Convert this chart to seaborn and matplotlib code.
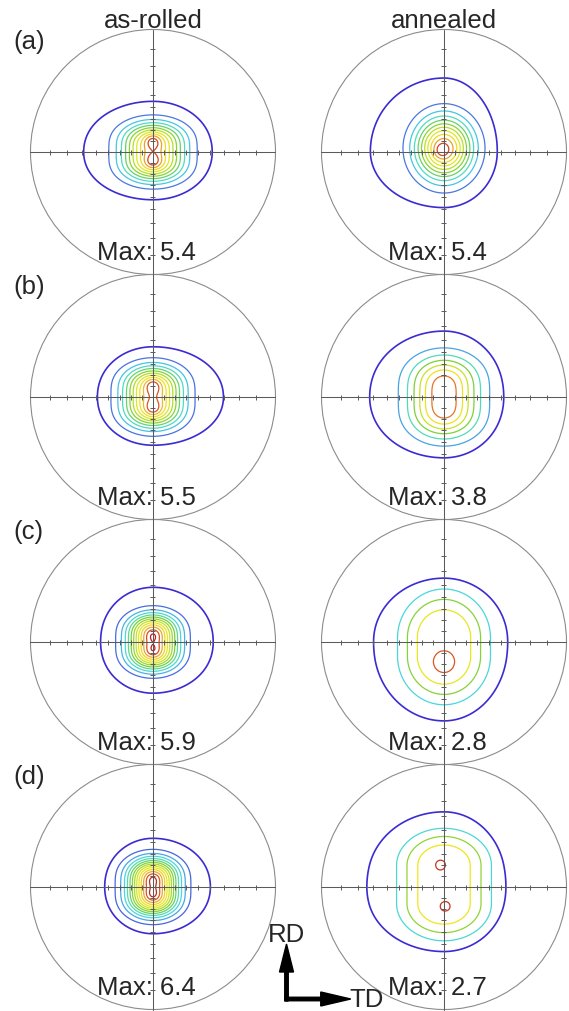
import numpy as np
import matplotlib.pyplot as plt
from matplotlib.patches import Circle, FancyArrow
import seaborn as sns

sns.set_style("white")
plt.rcParams["font.family"] = ["Liberation Sans", "DejaVu Sans"]

# panels in reading order: (a) as-rolled, (a) annealed, (b) as-rolled, (b) annealed, ...
row_labels = ["(a)", "(b)", "(c)", "(d)"]
col_titles = ["as-rolled", "annealed"]
max_vals = [5.4, 5.4, 5.5, 3.8, 5.9, 2.8, 6.4, 2.7]
level_start = 1.0
level_step = 0.4

# central maximum, elongated along RD (units of the pole figure radius)
# core_n = number of sub-peaks along RD, 0 = flat ridge
core_sx = [0.17, 0.156, 0.16, 0.19, 0.138, 0.272, 0.137, 0.28]
core_sy = [0.10, 0.17, 0.105, 0.14, 0.095, 0.285, 0.097, 0.22]
core_h = [0.10, 0.0, 0.105, 0.14, 0.095, 0.075, 0.097, 0.155]
core_n = [2, 1, 2, 2, 2, 0, 2, 0]
core_y0 = [0.0, 0.03, 0.0, 0.0, 0.0, -0.04, 0.0, 0.02]
core_p = [2, 2, 2, 2, 2, 3, 2, 3]

# extent of the outermost (1.0) contour: left, right, top, bottom
halo_l = [0.58, 0.64, 0.45, 0.62, 0.43, 0.59, 0.39, 0.66]
halo_r = [0.48, 0.43, 0.60, 0.48, 0.51, 0.52, 0.48, 0.50]
halo_t = [0.42, 0.62, 0.41, 0.54, 0.47, 0.51, 0.40, 0.62]
halo_b = [0.39, 0.45, 0.39, 0.49, 0.43, 0.64, 0.38, 0.52]

# local peaks
peak_xy = [[(0, 0.09), (0, -0.08)], [(-0.02, 0.01)], [(0, 0.1), (0, -0.1)], [(0.01, 0.0)],
           [(0, 0.05), (0, -0.07)], [(0.0, -0.18)], [(0, 0.06), (0, -0.06)],
           [(-0.03, 0.18), (0.01, -0.16)]]
peak_amp = [0.6, 0.4, 0.5, 0.05, 0.3, 0.25, 0.3, 0.2]
peak_size = [0.045, 0.04, 0.045, 0.02, 0.04, 0.06, 0.04, 0.035]

contour_cmap = sns.blend_palette(["#3b2bd2", "#4a7fe2", "#46d6e6", "#55dbb0", "#6fcf40",
                                  "#9fd82c", "#d6e624", "#efe81c", "#efb82a", "#d84a22",
                                  "#b3151a"], as_cmap=True)


def pole_field(i, X, Y):
    if core_n[i] == 0:
        yy = np.maximum(np.abs(Y - core_y0[i]) - core_h[i], 0)
        S = np.exp(-np.hypot(X / core_sx[i], yy / core_sy[i]) ** core_p[i] / 2)
    else:
        S = 0
        for t in np.linspace(-core_h[i], core_h[i], core_n[i]):
            rho = np.hypot(X / core_sx[i], (Y - core_y0[i] - t) / core_sy[i])
            S = S + np.exp(-rho ** core_p[i] / 2)
    core = (max_vals[i] - 1 - peak_amp[i]) * S / S.max()
    spots = sum(peak_amp[i] * np.exp(-((X - px) ** 2 + (Y - py) ** 2) / (2 * peak_size[i] ** 2))
                for px, py in peak_xy[i])
    ex = np.where(X < 0, halo_l[i], halo_r[i])
    ey = np.where(Y > 0, halo_t[i], halo_b[i])
    halo = 1 / (1 + np.exp((np.hypot(X / ex, Y / ey) - 1.06) / 0.02))
    return halo + core + spots


fig = plt.figure(figsize=(5.69, 10.12), dpi=100)
ax = fig.add_axes([0, 0, 1, 1])
ax.set_xlim(0, 569)
ax.set_ylim(1012, 0)
ax.axis("off")

R = 122.5
col_x = [153, 444]
row_y = [153, 398, 643, 888]
grid = np.linspace(-1, 1, 501)
X, Y = np.meshgrid(grid, grid)
tick_r = R * np.tan(np.radians(np.arange(10, 90, 10)) / 2)
tick_pos = np.concatenate([-tick_r, tick_r])

for i in range(8):
    row, col = divmod(i, 2)
    cx, cy = col_x[col], row_y[row]

    ax.add_patch(Circle((cx, cy), R, fill=False, ec="#8c8c8c", lw=0.8, zorder=1))
    ax.plot([cx - R, cx + R], [cy, cy], color="#5a5a5a", lw=0.75, zorder=3)
    ax.plot([cx, cx], [cy - R, cy + R], color="#5a5a5a", lw=0.75, zorder=3)
    ax.vlines(cx + tick_pos, cy - 2.5, cy + 2.5, color="#5a5a5a", lw=0.7, zorder=3)
    ax.hlines(cy + tick_pos, cx - 2.5, cx + 2.5, color="#5a5a5a", lw=0.7, zorder=3)

    F = pole_field(i, X, Y)
    levels = np.arange(level_start, max_vals[i] - 1e-6, level_step)
    frac = (levels - level_start) / (max_vals[i] - level_start)
    colors = [contour_cmap(f) for f in frac]
    lws = [1.2] + [0.9] * (len(levels) - 1)
    ax.contour(cx + R * X, cy - R * Y, F, levels=levels, colors=colors,
               linewidths=lws, zorder=2)

    ax.text(cx - 6.5, cy + 107, f"Max: {max_vals[i]:.1f}", ha="center",
            va="baseline", fontsize=18.5, zorder=4)

for row, lab in enumerate(row_labels):
    ax.text(13, 49 + 245 * row, lab, ha="left", va="baseline", fontsize=18.5)
for col, title in enumerate(col_titles):
    ax.text(col_x[col], 27.5, title, ha="center", va="baseline", fontsize=18.5)

# sample axes
ax.add_patch(FancyArrow(286.5, 1002, 0, -57, width=3.5, head_width=14, head_length=28,
                        length_includes_head=True, color="black", zorder=5))
ax.add_patch(FancyArrow(284.75, 1000, 66, 0, width=3.5, head_width=14, head_length=30,
                        length_includes_head=True, color="black", zorder=5))
ax.text(287, 942, "RD", ha="center", va="baseline", fontsize=18.5)
ax.text(349, 1007, "TD", ha="left", va="baseline", fontsize=18.5)

fig.savefig("out.png", dpi=100)
